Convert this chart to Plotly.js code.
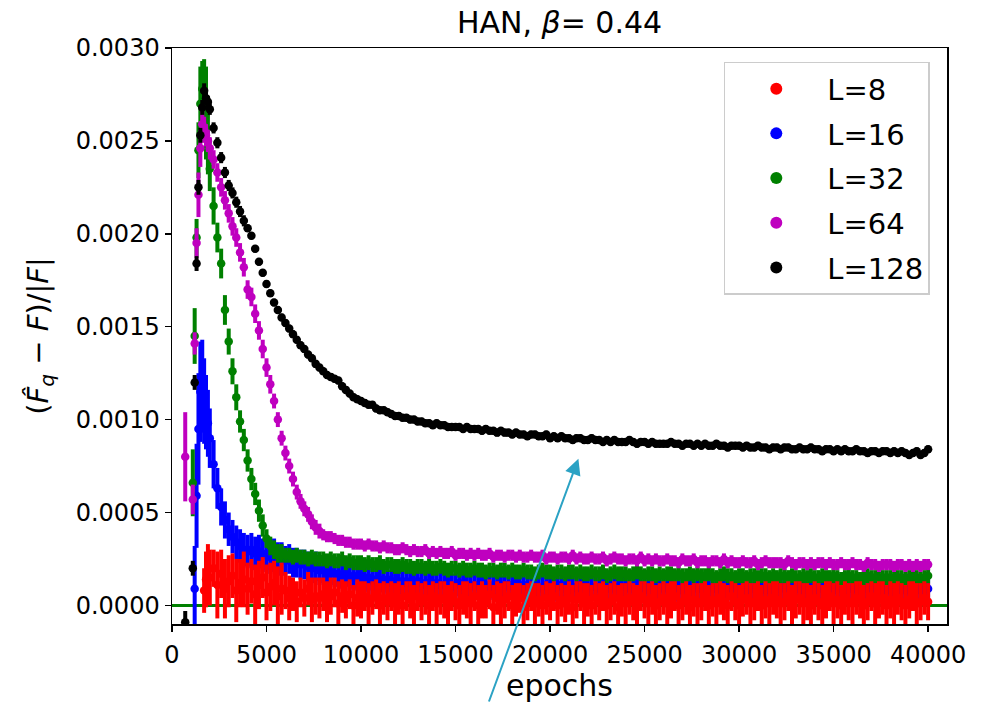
<!DOCTYPE html>
<html><head><meta charset="utf-8">
<script src="https://cdn.plot.ly/plotly-3.0.1.min.js"></script>
<style>body{margin:0;background:#fff}#chart{width:981px;height:703px}</style>
</head><body><div id="chart"></div>
<script>
// values of the series are in units of 1e-4
const UNIT = 1e-4;
const epochs = [700,1100,1200,1300,1400,1500,1600,1700,1800,1900,
2000,2200,2400,2600,2800,3000,3200,3400,3600,3800,
4000,4200,4400,4600,4800,5000,5200,5400,5600,5800,
6000,6200,6400,6600,6800,7000,7200,7400,7600,7800,
8000,8200,8400,8600,8800,9000,9200,9400,9600,9800,
10000,10200,10400,10600,10800,11000,11200,11400,11600,11800,
12000,12200,12400,12600,12800,13000,13200,13400,13600,13800,
14000,14200,14400,14600,14800,15000,15200,15400,15600,15800,
16000,16200,16400,16600,16800,17000,17200,17400,17600,17800,
18000,18200,18400,18600,18800,19000,19200,19400,19600,19800,
20000,20200,20400,20600,20800,21000,21200,21400,21600,21800,
22000,22200,22400,22600,22800,23000,23200,23400,23600,23800,
24000,24200,24400,24600,24800,25000,25200,25400,25600,25800,
26000,26200,26400,26600,26800,27000,27200,27400,27600,27800,
28000,28200,28400,28600,28800,29000,29200,29400,29600,29800,
30000,30200,30400,30600,30800,31000,31200,31400,31600,31800,
32000,32200,32400,32600,32800,33000,33200,33400,33600,33800,
34000,34200,34400,34600,34800,35000,35200,35400,35600,35800,
36000,36200,36400,36600,36800,37000,37200,37400,37600,37800,
38000,38200,38400,38600,38800,39000,39200,39400,39600,39800,
40000];

const L8 = [null,null,null,null,null,null,null,0.8,1.4,1.9,
1.5,2.0,1.1,1.7,0.9,1.3,1.6,0.8,1.2,1.4,
0.9,1.3,0.6,1.1,1.5,0.7,1.0,1.2,0.5,0.9,
0.8,0.4,0.6,0.2,0.7,0.4,0.9,0.3,0.5,0.4,
0.6,0.2,0.5,0.7,0.1,0.5,0.3,0.6,0.0,0.4,
0.3,0.5,0.1,0.4,0.6,0.0,0.4,0.2,0.5,0.1,
0.4,0.0,0.5,0.3,-0.1,0.5,0.2,0.4,0.0,0.5,
0.1,0.4,0.3,-0.1,0.5,0.2,0.0,0.4,0.3,0.1,
0.5,0.0,0.3,0.2,0.6,-0.1,0.4,0.1,0.3,0.5,
0.0,0.3,0.4,-0.1,0.2,0.5,0.1,0.3,0.0,0.4,
0.2,0.5,0.0,0.3,0.1,0.4,-0.1,0.3,0.5,0.1,
0.3,0.0,0.4,0.2,0.5,0.0,0.2,0.4,-0.1,0.3,
0.1,0.4,0.2,0.0,0.5,0.3,0.1,0.4,0.0,0.2,
0.4,0.1,0.3,0.5,0.0,0.2,0.4,-0.1,0.3,0.1,
0.2,0.5,0.0,0.3,0.1,0.4,0.2,0.0,0.5,0.2,
0.0,0.3,0.4,0.1,0.2,0.5,0.0,0.3,0.1,0.4,
0.3,0.1,0.2,0.5,-0.1,0.3,0.4,0.1,0.2,0.0,
0.4,0.2,0.0,0.3,0.5,0.1,0.3,0.0,0.4,0.2,
0.1,0.4,0.3,0.0,0.2,0.5,0.1,0.3,0.4,0.0,
0.3,0.1,0.4,0.2,0.0,0.3,0.5,0.1,0.2,0.4,
0.2];
const L8_err = [null,null,null,null,null,null,null,1.2,1.5,1.4,
1.5,1.0,1.8,1.3,1.6,1.4,1.2,1.7,1.3,1.5,
1.4,1.2,1.6,1.3,1.1,1.5,1.3,1.2,1.6,1.4,
1.0,1.2,0.9,1.1,0.8,1.0,0.9,1.2,1.0,1.1,
0.9,1.1,1.0,0.8,1.2,0.9,1.0,0.8,1.1,1.0,
1.0,0.8,1.1,0.9,0.8,1.2,0.9,1.0,0.8,1.1,
0.9,1.1,0.8,1.0,1.2,0.8,1.0,0.9,1.1,0.8,
1.1,0.9,1.0,1.2,0.8,1.0,1.1,0.9,1.0,1.1,
0.8,1.1,1.0,0.9,0.8,1.2,0.9,1.1,1.0,0.8,
1.1,0.9,0.8,1.2,1.0,0.8,1.1,0.9,1.1,0.9,
1.0,0.8,1.1,0.9,1.0,0.9,1.2,1.0,0.8,1.1,
0.9,1.1,0.9,1.0,0.8,1.1,1.0,0.9,1.2,0.9,
1.1,0.9,1.0,1.1,0.8,1.0,1.1,0.9,1.1,1.0,
0.9,1.1,1.0,0.8,1.1,1.0,0.9,1.2,0.9,1.1,
1.0,0.8,1.1,0.9,1.1,0.9,1.0,1.1,0.8,1.0,
1.1,0.9,0.9,1.1,1.0,0.8,1.1,1.0,1.1,0.9,
1.0,1.1,1.0,0.8,1.2,1.0,0.9,1.1,1.0,1.1,
0.9,1.0,1.1,1.0,0.8,1.1,1.0,1.1,0.9,1.0,
1.1,0.9,1.0,1.1,1.0,0.8,1.1,1.0,0.9,1.1,
1.0,1.1,0.9,1.0,1.1,1.0,0.8,1.1,1.0,0.9,
1.0];

const L16 = [null,null,0.9,5.9,9.5,11.5,11.8,11.0,10.4,9.8,
9.0,7.6,6.3,5.3,4.6,4.1,3.7,3.4,3.2,3.0,
2.9,3.0,2.8,2.9,2.7,2.8,2.6,2.7,2.5,2.5,
2.4,2.5,2.3,2.3,2.2,2.2,2.1,2.0,2.1,1.9,
1.9,1.8,1.8,1.7,1.7,1.6,1.7,1.5,1.6,1.5,
1.5,1.4,1.5,1.3,1.4,1.4,1.3,1.4,1.2,1.3,
1.3,1.2,1.3,1.2,1.1,1.3,1.2,1.1,1.2,1.1,
1.2,1.1,1.1,1.2,1.0,1.1,1.2,1.0,1.1,1.1,
1.0,1.1,1.2,1.0,1.1,1.0,1.1,0.9,1.1,1.0,
1.1,1.0,0.9,1.1,1.0,1.0,1.1,0.9,1.0,1.1,
1.0,0.9,1.0,1.1,0.9,1.0,1.0,0.9,1.1,1.0,
0.9,1.0,1.0,0.9,1.1,0.9,1.0,0.9,1.0,1.0,
1.0,0.9,0.9,1.0,1.0,0.8,1.0,0.9,0.9,1.0,
0.9,1.0,0.9,0.9,0.8,1.0,0.9,0.9,1.0,0.9,
0.9,0.8,1.0,0.9,0.9,0.9,0.8,1.0,0.9,0.9,
1.0,0.9,0.8,0.9,0.9,1.0,0.9,0.8,0.9,0.9,
0.9,0.9,1.0,0.8,0.9,0.9,0.9,0.8,1.0,0.9,
0.8,0.9,0.9,0.9,1.0,0.8,0.9,0.9,0.8,0.9,
0.9,0.9,0.8,0.9,0.9,1.0,0.8,0.9,0.9,0.8,
0.9,0.8,0.9,0.9,0.8,0.9,1.0,0.9,0.8,0.9,
0.9];
const L16_err = [null,null,2.3,2.8,3.0,2.7,2.5,2.3,2.0,1.8,
1.6,1.3,1.1,1.0,1.0,0.9,0.9,0.9,0.9,0.9,
0.9,0.9,0.9,0.9,0.9,0.9,0.9,0.9,0.9,0.9,
0.8,0.8,0.8,0.8,0.8,0.8,0.8,0.8,0.8,0.8,
0.7,0.7,0.7,0.7,0.7,0.7,0.7,0.7,0.7,0.7,
0.7,0.7,0.7,0.7,0.7,0.7,0.7,0.7,0.7,0.7,
0.7,0.7,0.7,0.7,0.7,0.7,0.7,0.7,0.7,0.7,
0.7,0.7,0.7,0.7,0.7,0.7,0.7,0.7,0.7,0.7,
0.7,0.7,0.7,0.7,0.7,0.7,0.7,0.7,0.7,0.7,
0.7,0.7,0.7,0.7,0.7,0.7,0.7,0.7,0.7,0.7,
0.7,0.7,0.7,0.7,0.7,0.7,0.7,0.7,0.7,0.7,
0.7,0.7,0.7,0.7,0.7,0.7,0.7,0.7,0.7,0.7,
0.7,0.7,0.7,0.7,0.7,0.7,0.7,0.7,0.7,0.7,
0.7,0.7,0.7,0.7,0.7,0.7,0.7,0.7,0.7,0.7,
0.7,0.7,0.7,0.7,0.7,0.7,0.7,0.7,0.7,0.7,
0.7,0.7,0.7,0.7,0.7,0.7,0.7,0.7,0.7,0.7,
0.7,0.7,0.7,0.7,0.7,0.7,0.7,0.7,0.7,0.7,
0.7,0.7,0.7,0.7,0.7,0.7,0.7,0.7,0.7,0.7,
0.7,0.7,0.7,0.7,0.7,0.7,0.7,0.7,0.7,0.7,
0.7,0.7,0.7,0.7,0.7,0.7,0.7,0.7,0.7,0.7,
0.7];

const L32 = [null,6.6,14.5,19.8,24.5,27.0,27.8,27.4,26.5,25.0,
23.5,21.5,19.8,18.4,15.9,14.2,12.6,11.2,9.9,8.9,
7.8,6.8,6.0,5.1,4.3,3.6,3.2,3.0,2.8,2.8,
2.7,2.7,2.6,2.7,2.6,2.6,2.5,2.6,2.5,2.5,
2.5,2.4,2.5,2.4,2.4,2.5,2.3,2.4,2.3,2.3,
2.3,2.2,2.3,2.2,2.2,2.3,2.1,2.2,2.2,2.1,
2.1,2.2,2.1,2.1,2.0,2.1,2.1,2.0,2.1,2.0,
2.0,2.1,2.0,1.9,2.0,2.0,1.9,2.0,1.9,1.9,
2.0,1.9,1.9,1.8,1.9,1.9,1.8,1.9,1.9,1.8,
1.9,1.8,1.8,1.9,1.8,1.8,1.7,1.8,1.9,1.8,
1.8,1.7,1.8,1.8,1.7,1.8,1.8,1.7,1.8,1.7,
1.7,1.8,1.7,1.7,1.8,1.6,1.7,1.8,1.7,1.7,
1.7,1.6,1.7,1.8,1.7,1.6,1.7,1.7,1.6,1.7,
1.6,1.7,1.7,1.6,1.7,1.6,1.6,1.7,1.6,1.7,
1.6,1.6,1.7,1.6,1.5,1.6,1.7,1.6,1.6,1.5,
1.6,1.6,1.5,1.6,1.6,1.5,1.6,1.6,1.5,1.6,
1.5,1.6,1.6,1.5,1.6,1.5,1.5,1.6,1.5,1.6,
1.5,1.5,1.6,1.5,1.5,1.6,1.5,1.4,1.5,1.6,
1.5,1.5,1.4,1.5,1.6,1.5,1.5,1.4,1.5,1.5,
1.5,1.4,1.5,1.5,1.4,1.5,1.6,1.5,1.4,1.5,
1.6];
const L32_err = [null,1.8,1.5,1.0,1.5,2.0,1.5,2.0,2.5,1.8,
1.2,1.0,0.8,0.8,0.8,0.7,0.7,0.7,0.6,0.6,
0.6,0.6,0.6,0.6,0.6,0.5,0.5,0.5,0.5,0.5,
0.4,0.4,0.4,0.4,0.4,0.4,0.4,0.4,0.4,0.4,
0.4,0.4,0.4,0.4,0.4,0.4,0.4,0.4,0.4,0.4,
0.4,0.4,0.4,0.4,0.4,0.4,0.4,0.4,0.4,0.4,
0.4,0.4,0.4,0.4,0.4,0.4,0.4,0.4,0.4,0.4,
0.4,0.4,0.4,0.4,0.4,0.4,0.4,0.4,0.4,0.4,
0.4,0.4,0.4,0.4,0.4,0.4,0.4,0.4,0.4,0.4,
0.4,0.4,0.4,0.4,0.4,0.4,0.4,0.4,0.4,0.4,
0.4,0.4,0.4,0.4,0.4,0.4,0.4,0.4,0.4,0.4,
0.4,0.4,0.4,0.4,0.4,0.4,0.4,0.4,0.4,0.4,
0.4,0.4,0.4,0.4,0.4,0.4,0.4,0.4,0.4,0.4,
0.4,0.4,0.4,0.4,0.4,0.4,0.4,0.4,0.4,0.4,
0.4,0.4,0.4,0.4,0.4,0.4,0.4,0.4,0.4,0.4,
0.4,0.4,0.4,0.4,0.4,0.4,0.4,0.4,0.4,0.4,
0.4,0.4,0.4,0.4,0.4,0.4,0.4,0.4,0.4,0.4,
0.4,0.4,0.4,0.4,0.4,0.4,0.4,0.4,0.4,0.4,
0.4,0.4,0.4,0.4,0.4,0.4,0.4,0.4,0.4,0.4,
0.4,0.4,0.4,0.4,0.4,0.4,0.4,0.4,0.4,0.4,
0.4];

const L64 = [8.0,5.7,14.1,19.5,22.1,24.6,25.9,25.6,25.3,25.0,
24.6,24.0,23.3,22.5,21.8,21.1,20.4,19.8,19.0,18.2,
17.0,16.6,15.7,14.8,13.8,12.8,11.9,11.0,10.0,9.0,
8.2,7.5,6.8,6.1,5.6,5.2,4.9,4.5,4.2,4.0,
3.8,3.7,3.7,3.6,3.5,3.5,3.4,3.4,3.3,3.3,
3.3,3.2,3.3,3.2,3.2,3.1,3.2,3.1,3.1,3.0,
3.0,3.1,3.0,2.9,3.0,2.9,2.9,3.0,2.8,2.9,
2.8,2.9,2.8,2.8,2.9,2.7,2.8,2.8,2.7,2.8,
2.7,2.8,2.7,2.7,2.8,2.6,2.7,2.7,2.6,2.7,
2.7,2.6,2.7,2.6,2.6,2.7,2.6,2.6,2.7,2.5,
2.6,2.6,2.5,2.6,2.6,2.5,2.7,2.5,2.6,2.5,
2.5,2.6,2.5,2.5,2.6,2.4,2.5,2.6,2.5,2.5,
2.4,2.5,2.5,2.4,2.6,2.4,2.5,2.4,2.5,2.4,
2.4,2.5,2.4,2.4,2.3,2.5,2.4,2.4,2.5,2.3,
2.4,2.4,2.3,2.4,2.4,2.3,2.5,2.3,2.4,2.3,
2.3,2.4,2.3,2.3,2.4,2.2,2.3,2.4,2.3,2.3,
2.3,2.3,2.2,2.4,2.3,2.2,2.3,2.3,2.2,2.3,
2.2,2.3,2.3,2.2,2.3,2.2,2.2,2.3,2.2,2.2,
2.3,2.2,2.2,2.1,2.3,2.2,2.2,2.1,2.2,2.2,
2.2,2.1,2.2,2.2,2.1,2.2,2.1,2.2,2.1,2.2,
2.2];
const L64_err = [2.4,0.8,0.6,0.8,1.2,1.0,0.8,0.7,0.6,0.6,
0.6,0.5,0.5,0.5,0.5,0.5,0.5,0.5,0.5,0.5,
0.5,0.5,0.5,0.5,0.5,0.5,0.5,0.4,0.4,0.4,
0.4,0.4,0.4,0.4,0.4,0.4,0.4,0.4,0.4,0.4,
0.3,0.3,0.3,0.3,0.3,0.3,0.3,0.3,0.3,0.3,
0.3,0.3,0.3,0.3,0.3,0.3,0.3,0.3,0.3,0.3,
0.3,0.3,0.3,0.3,0.3,0.3,0.3,0.3,0.3,0.3,
0.3,0.3,0.3,0.3,0.3,0.3,0.3,0.3,0.3,0.3,
0.3,0.3,0.3,0.3,0.3,0.3,0.3,0.3,0.3,0.3,
0.3,0.3,0.3,0.3,0.3,0.3,0.3,0.3,0.3,0.3,
0.3,0.3,0.3,0.3,0.3,0.3,0.3,0.3,0.3,0.3,
0.3,0.3,0.3,0.3,0.3,0.3,0.3,0.3,0.3,0.3,
0.3,0.3,0.3,0.3,0.3,0.3,0.3,0.3,0.3,0.3,
0.3,0.3,0.3,0.3,0.3,0.3,0.3,0.3,0.3,0.3,
0.3,0.3,0.3,0.3,0.3,0.3,0.3,0.3,0.3,0.3,
0.3,0.3,0.3,0.3,0.3,0.3,0.3,0.3,0.3,0.3,
0.3,0.3,0.3,0.3,0.3,0.3,0.3,0.3,0.3,0.3,
0.3,0.3,0.3,0.3,0.3,0.3,0.3,0.3,0.3,0.3,
0.3,0.3,0.3,0.3,0.3,0.3,0.3,0.3,0.3,0.3,
0.3,0.3,0.3,0.3,0.3,0.3,0.3,0.3,0.3,0.3,
0.3];

const L128 = [-0.9,2.0,12.0,18.4,22.5,25.3,26.8,27.7,27.3,27.1,
26.7,25.7,24.9,24.1,23.3,22.6,22.2,21.7,21.2,20.7,
20.3,19.9,19.2,18.5,17.9,17.3,16.8,16.3,15.9,15.5,
15.2,14.9,14.6,14.3,14.0,13.8,13.5,13.3,13.0,12.8,
12.6,12.4,12.3,12.2,12.1,11.8,11.6,11.4,11.2,11.1,
11.0,10.9,10.8,10.8,10.6,10.5,10.5,10.4,10.3,10.2,
10.2,10.1,10.1,10.0,10.0,9.9,9.9,9.8,9.8,9.7,
9.8,9.7,9.7,9.6,9.6,9.6,9.6,9.5,9.6,9.5,
9.5,9.5,9.4,9.5,9.4,9.4,9.3,9.4,9.3,9.3,
9.2,9.3,9.2,9.2,9.1,9.2,9.2,9.1,9.1,9.2,
9.0,9.1,9.0,9.1,9.0,9.0,8.9,9.0,9.0,8.9,
8.9,9.0,8.9,8.9,8.8,8.9,8.8,8.9,8.8,8.8,
8.8,8.9,8.8,8.7,8.8,8.8,8.7,8.8,8.7,8.7,
8.7,8.7,8.8,8.7,8.7,8.6,8.7,8.7,8.6,8.7,
8.6,8.7,8.6,8.6,8.7,8.6,8.6,8.5,8.6,8.6,
8.6,8.5,8.6,8.5,8.5,8.6,8.5,8.5,8.4,8.5,
8.5,8.4,8.5,8.5,8.4,8.4,8.5,8.4,8.4,8.5,
8.4,8.4,8.3,8.4,8.4,8.3,8.4,8.3,8.4,8.3,
8.3,8.4,8.3,8.3,8.2,8.3,8.3,8.2,8.3,8.3,
8.2,8.3,8.2,8.3,8.2,8.1,8.2,8.3,8.1,8.2,
8.4];
const L128_err = [0.6,0.4,0.4,0.4,0.4,0.4,0.4,0.4,0.3,0.3,
0.3,0.3,0.3,0.3,0.3,0.3,0.3,0.3,0.3,0.3,
0.2,0.2,0.2,0.2,0.2,0.2,0.2,0.2,0.2,0.2,
0.2,0.2,0.2,0.2,0.2,0.2,0.2,0.2,0.2,0.2,
0.2,0.2,0.2,0.2,0.2,0.2,0.2,0.2,0.2,0.2,
0.2,0.2,0.2,0.2,0.2,0.2,0.2,0.2,0.2,0.2,
0.2,0.2,0.2,0.2,0.2,0.2,0.2,0.2,0.2,0.2,
0.2,0.2,0.2,0.2,0.2,0.2,0.2,0.2,0.2,0.2,
0.2,0.2,0.2,0.2,0.2,0.2,0.2,0.2,0.2,0.2,
0.2,0.2,0.2,0.2,0.2,0.2,0.2,0.2,0.2,0.2,
0.2,0.2,0.2,0.2,0.2,0.2,0.2,0.2,0.2,0.2,
0.2,0.2,0.2,0.2,0.2,0.2,0.2,0.2,0.2,0.2,
0.2,0.2,0.2,0.2,0.2,0.2,0.2,0.2,0.2,0.2,
0.2,0.2,0.2,0.2,0.2,0.2,0.2,0.2,0.2,0.2,
0.2,0.2,0.2,0.2,0.2,0.2,0.2,0.2,0.2,0.2,
0.2,0.2,0.2,0.2,0.2,0.2,0.2,0.2,0.2,0.2,
0.2,0.2,0.2,0.2,0.2,0.2,0.2,0.2,0.2,0.2,
0.2,0.2,0.2,0.2,0.2,0.2,0.2,0.2,0.2,0.2,
0.2,0.2,0.2,0.2,0.2,0.2,0.2,0.2,0.2,0.2,
0.2,0.2,0.2,0.2,0.2,0.2,0.2,0.2,0.2,0.2,
0.2];

const labels = ['L=8','L=16','L=32','L=64','L=128'];
const colors = ['#ff0000','#0000ff','#008000','#bf00bf','#000000'];
const seriesVals = [L8, L16, L32, L64, L128];
const seriesErrs = [L8_err, L16_err, L32_err, L64_err, L128_err];
const drawOrder = [1, 2, 3, 4, 0];

const scale = arr => arr.map(v => (v === null ? null : v * UNIT));

const traces = drawOrder.map(i => ({
  type: 'scatter',
  mode: 'markers',
  name: labels[i],
  legendgroup: labels[i],
  legendrank: i + 1,
  x: epochs,
  y: scale(seriesVals[i]),
  error_y: {type: 'data', array: scale(seriesErrs[i]), visible: true,
            color: colors[i], thickness: 4, width: 0},
  marker: {color: colors[i], size: 8.5},
  hoverinfo: 'skip'
}));

const layout = {
  width: 981, height: 703,
  margin: {l: 172, r: 34, t: 48, b: 79},
  paper_bgcolor: '#ffffff', plot_bgcolor: '#ffffff',
  font: {family: 'DejaVu Sans', color: '#000000'},
  showlegend: true,
  title: {text: 'HAN, <i>β</i>= 0.44', font: {size: 30, color: '#000'},
          x: 0.5, xref: 'paper', xanchor: 'center',
          y: 1 - 22 / 703, yref: 'container', yanchor: 'middle'},
  xaxis: {
    range: [0, 41000], tick0: 0, dtick: 5000, tickformat: 'd',
    ticks: 'outside', ticklen: 6, tickwidth: 1.5, tickcolor: '#000',
    showline: true, linecolor: '#000', linewidth: 1.5, mirror: true,
    showgrid: false, zeroline: false,
    tickfont: {size: 24}, ticklabelstandoff: 3,
    title: {text: 'epochs', font: {size: 30}, standoff: 6}
  },
  yaxis: {
    range: [-0.0001, 0.003], tick0: 0, dtick: 0.0005, tickformat: '.4f',
    ticks: 'outside', ticklen: 6, tickwidth: 1.5, tickcolor: '#000',
    showline: true, linecolor: '#000', linewidth: 1.5, mirror: true,
    showgrid: false, zeroline: false,
    tickfont: {size: 24},
    title: {text: '(<i>F\u0302</i><sub><i>q</i></sub> \u2212 <i>F</i>)/|<i>F</i>|',
            font: {size: 29}, standoff: 18}
  },
  legend: {
    x: 0.712, y: 0.976, xanchor: 'left', yanchor: 'top',
    bgcolor: 'rgba(255,255,255,0.85)', bordercolor: '#cccccc', borderwidth: 1.5,
    font: {size: 29}, itemwidth: 92, tracegroupgap: 4, itemsizing: 'constant'
  },
  shapes: [{type: 'line', xref: 'paper', x0: 0, x1: 1, yref: 'y', y0: 0, y1: 0,
            line: {color: '#008000', width: 3}, layer: 'below'}],
  annotations: [{x: 21500, y: 0.00079, xref: 'x', yref: 'y', ax: -90, ay: 245,
                 text: '', showarrow: true, arrowhead: 2, arrowsize: 1.6,
                 arrowwidth: 2, arrowcolor: '#2ba2c4'}]
};

Plotly.newPlot('chart', traces, layout, {displayModeBar: false, staticPlot: true});
</script>
</body></html>
